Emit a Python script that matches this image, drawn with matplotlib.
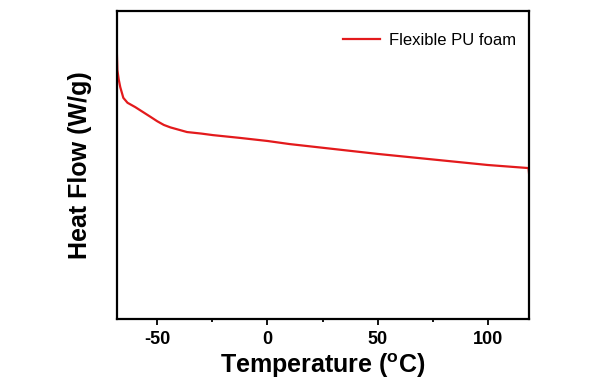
import matplotlib
matplotlib.use("Agg")
import matplotlib.pyplot as plt
from matplotlib.ticker import MultipleLocator, NullLocator

plt.rcParams['font.family'] = ['Liberation Sans', 'DejaVu Sans']
plt.rcParams['mathtext.fontset'] = 'custom'
plt.rcParams['mathtext.rm'] = 'Liberation Sans:bold'
plt.rcParams['mathtext.bf'] = 'Liberation Sans:bold'

temperature = [-68.4, -68.1, -67.5, -66.8, -65.4, -63.5, -60.0, -56.5, -53.0, -50.0,
               -47.0, -44.0, -40.0, -36.5, -30.0, -24.7, -12.5, 0.0, 10.0, 30.0,
               50.0, 75.0, 100.0, 118.5, 118.7]
heat_flow = [0.880, 0.808, 0.778, 0.753, 0.718, 0.702, 0.688, 0.672, 0.656, 0.642,
             0.630, 0.622, 0.614, 0.607, 0.602, 0.597, 0.588, 0.578, 0.568, 0.552,
             0.536, 0.518, 0.500, 0.490, 0.474]
series_label = "Flexible PU foam"
x_ticks = [-50, 0, 50, 100]

fig = plt.figure(figsize=(6.02, 3.85), dpi=100)
ax = fig.add_axes([116.5/602, 1 - 319/385, (529 - 116.5)/602, (319 - 11)/385])

ax.plot(temperature, heat_flow, color='#e31a1c', lw=1.6, label=series_label)

ax.set_xlim(-68.5, 118.7)
ax.set_ylim(0.0, 1.0)
ax.xaxis.set_minor_locator(MultipleLocator(25))
ax.yaxis.set_major_locator(NullLocator())
ax.set_xticks(x_ticks)
ax.set_xticklabels([str(t) for t in x_ticks], fontweight='bold', fontsize=13)
ax.tick_params(axis='x', which='major', direction='out', length=4, width=1.3, pad=5)
ax.tick_params(axis='x', which='minor', direction='out', length=2.5, width=1.3)

for sp in ax.spines.values():
    sp.set_linewidth(1.6)

ax.set_xlabel(r'Temperature ($^{\rm o}$C)', fontsize=18, fontweight='bold', labelpad=2)
ax.set_ylabel('Heat Flow (W/g)', fontsize=18, fontweight='bold', labelpad=18)

leg = ax.legend(loc='upper right', bbox_to_anchor=(0.985, 0.95), borderaxespad=0,
                frameon=False, fontsize=12, handlelength=2.2, handletextpad=0.55)

fig.savefig('out.png', dpi=100)
